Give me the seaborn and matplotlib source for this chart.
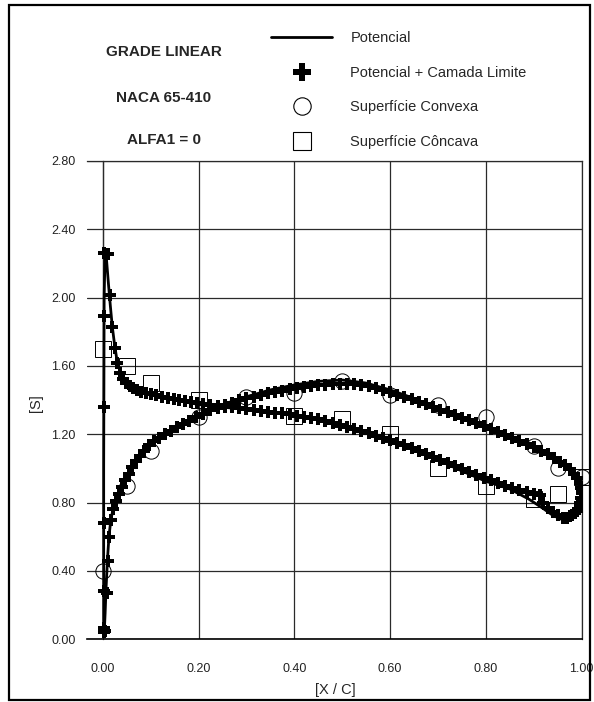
import matplotlib
matplotlib.use("Agg")
import matplotlib.pyplot as plt
import seaborn as sns
from matplotlib.lines import Line2D
from matplotlib.patches import Rectangle
from matplotlib.ticker import MultipleLocator, FormatStrFormatter

# Potencial (solid line): one path, leading edge -> concave side -> trailing edge -> convex side
pot_x = [0.002, 0.002, 0.003, 0.005, 0.008, 0.012, 0.016, 0.020, 0.025, 0.030, 0.036, 0.045,
         0.055, 0.070, 0.090, 0.110, 0.140, 0.170, 0.200, 0.240, 0.300, 0.350, 0.400, 0.450,
         0.500, 0.550, 0.600, 0.650, 0.700, 0.750, 0.800, 0.850, 0.890, 0.920, 0.940, 0.960,
         0.975, 0.990, 1.000, 1.003, 0.998, 0.988, 0.976, 0.960, 0.948, 0.920, 0.892, 0.850,
         0.800, 0.750, 0.700, 0.650, 0.600, 0.550, 0.500, 0.450, 0.400, 0.350, 0.300, 0.240,
         0.200, 0.170, 0.140, 0.120, 0.100, 0.080, 0.060, 0.047, 0.040, 0.029, 0.022, 0.017,
         0.013, 0.010, 0.007, 0.005, 0.003]
pot_y = [0.02, 1.00, 2.00, 2.27, 2.22, 2.08, 1.95, 1.83, 1.72, 1.63, 1.57, 1.52,
         1.49, 1.46, 1.44, 1.425, 1.405, 1.39, 1.375, 1.362, 1.345, 1.33, 1.315, 1.29,
         1.255, 1.21, 1.165, 1.11, 1.05, 0.985, 0.925, 0.88, 0.82, 0.765, 0.725, 0.70,
         0.705, 0.74, 0.80, 0.87, 0.93, 0.965, 0.99, 1.02, 1.05, 1.09, 1.128, 1.18,
         1.235, 1.30, 1.35, 1.41, 1.46, 1.50, 1.518, 1.51, 1.489, 1.46, 1.42, 1.365,
         1.315, 1.27, 1.225, 1.19, 1.148, 1.09, 1.01, 0.933, 0.884, 0.816, 0.767, 0.70,
         0.60, 0.47, 0.30, 0.15, 0.03]

# Potencial + Camada Limite (plus markers), concave side incl. trailing edge loop
pcl_cc_x = [0.002, 0.002, 0.002, 0.002, 0.002, 0.003, 0.002, 0.010, 0.015, 0.019, 0.026, 0.030,
            0.036, 0.042, 0.049, 0.056, 0.064, 0.072, 0.080, 0.090, 0.100, 0.112, 0.124, 0.136,
            0.148, 0.160, 0.172, 0.184, 0.196, 0.210, 0.225, 0.240, 0.255, 0.270, 0.285, 0.300,
            0.315, 0.330, 0.345, 0.360, 0.375, 0.390, 0.405, 0.420, 0.435, 0.450, 0.465, 0.480,
            0.495, 0.510, 0.525, 0.540, 0.555, 0.570, 0.585, 0.600, 0.615, 0.630, 0.645, 0.660,
            0.675, 0.690, 0.705, 0.720, 0.735, 0.750, 0.765, 0.780, 0.795, 0.810, 0.825, 0.840,
            0.855, 0.870, 0.885, 0.900, 0.912, 0.920, 0.930, 0.940, 0.950, 0.960, 0.970, 0.980,
            0.990, 0.997, 1.000, 1.000]
pcl_cc_y = [0.04, 0.065, 0.285, 0.68, 1.36, 1.89, 2.26, 2.255, 2.016, 1.83, 1.704, 1.616,
            1.557, 1.525, 1.50, 1.485, 1.47, 1.458, 1.45, 1.443, 1.437, 1.428, 1.42, 1.412,
            1.405, 1.40, 1.394, 1.388, 1.383, 1.378, 1.373, 1.368, 1.362, 1.357, 1.352, 1.347,
            1.342, 1.337, 1.332, 1.327, 1.322, 1.317, 1.31, 1.303, 1.295, 1.287, 1.278, 1.268,
            1.257, 1.244, 1.232, 1.219, 1.205, 1.192, 1.178, 1.165, 1.15, 1.135, 1.118, 1.10,
            1.083, 1.066, 1.05, 1.034, 1.016, 0.998, 0.982, 0.963, 0.945, 0.93, 0.913, 0.898,
            0.885, 0.874, 0.862, 0.852, 0.843, 0.80, 0.77, 0.745, 0.725, 0.712, 0.71, 0.725,
            0.75, 0.785, 0.82, 0.86]

# Potencial + Camada Limite (plus markers), convex side
pcl_cv_x = [0.004, 0.008, 0.011, 0.014, 0.018, 0.022, 0.027, 0.033, 0.040, 0.047, 0.054, 0.062,
            0.070, 0.078, 0.087, 0.097, 0.107, 0.118, 0.130, 0.142, 0.155, 0.168, 0.181, 0.195,
            0.210, 0.225, 0.240, 0.255, 0.270, 0.285, 0.300, 0.315, 0.330, 0.345, 0.360, 0.375,
            0.390, 0.405, 0.420, 0.435, 0.450, 0.465, 0.480, 0.495, 0.510, 0.525, 0.540, 0.555,
            0.570, 0.585, 0.600, 0.615, 0.630, 0.645, 0.660, 0.675, 0.690, 0.705, 0.720, 0.735,
            0.750, 0.765, 0.780, 0.795, 0.810, 0.825, 0.840, 0.855, 0.870, 0.885, 0.900, 0.915,
            0.930, 0.942, 0.954, 0.965, 0.975, 0.984, 0.991, 0.996, 0.999, 1.000, 0.999, 0.996,
            0.992, 0.985, 0.976]
pcl_cv_y = [0.05, 0.27, 0.46, 0.60, 0.70, 0.765, 0.81, 0.85, 0.89, 0.93, 0.97, 1.01,
            1.045, 1.075, 1.105, 1.135, 1.16, 1.18, 1.20, 1.22, 1.24, 1.26, 1.28, 1.30,
            1.32, 1.34, 1.355, 1.37, 1.385, 1.40, 1.41, 1.42, 1.43, 1.44, 1.448, 1.456,
            1.464, 1.47, 1.476, 1.482, 1.487, 1.491, 1.494, 1.496, 1.496, 1.494, 1.489, 1.481,
            1.47, 1.457, 1.445, 1.432, 1.418, 1.404, 1.39, 1.375, 1.36, 1.345, 1.33, 1.314,
            1.298, 1.282, 1.265, 1.248, 1.232, 1.215, 1.198, 1.18, 1.162, 1.143, 1.124, 1.104,
            1.082, 1.062, 1.04, 1.018, 0.995, 0.97, 0.945, 0.915, 0.885, 0.855, 0.825, 0.795,
            0.765, 0.74, 0.72]

# Experimental points
convexa_x = [0.0, 0.05, 0.10, 0.20, 0.30, 0.40, 0.50, 0.60, 0.70, 0.80, 0.90, 0.95, 1.00]
convexa_y = [0.40, 0.90, 1.10, 1.30, 1.42, 1.44, 1.51, 1.43, 1.37, 1.30, 1.13, 1.00, 0.95]
concava_x = [0.0, 0.05, 0.10, 0.20, 0.40, 0.50, 0.60, 0.70, 0.80, 0.90, 0.95, 1.00]
concava_y = [1.70, 1.60, 1.50, 1.40, 1.31, 1.29, 1.20, 1.00, 0.90, 0.82, 0.85, 0.95]

labels = ["Potencial", "Potencial + Camada Limite", "Superfície Convexa", "Superfície Côncava"]
info = ["GRADE LINEAR", "NACA 65-410", "ALFA1 = 0"]

sns.set_style("white")
plt.rcParams['font.family'] = ['Liberation Sans', 'DejaVu Sans']

W, H = 594, 702
fig = plt.figure(figsize=(W / 100, H / 100), dpi=100)
ax = fig.add_axes([87 / W, 1 - 639.3 / H, (581.7 - 87) / W, (639.3 - 161) / H])

sns.lineplot(x=pot_x, y=pot_y, sort=False, estimator=None, color='black', linewidth=2.0, ax=ax, zorder=3)
for mx, my in [(pcl_cc_x, pcl_cc_y), (pcl_cv_x, pcl_cv_y)]:
    ax.plot(mx, my, linestyle='none', marker='P', markersize=8.3, color='black',
            markeredgewidth=0, zorder=4)
ax.plot(convexa_x, convexa_y, linestyle='none', marker='o', markersize=11, markerfacecolor='none',
        markeredgecolor='black', markeredgewidth=0.7, zorder=5, clip_on=False)
ax.plot(concava_x, concava_y, linestyle='none', marker='s', markersize=11.5, markerfacecolor='none',
        markeredgecolor='black', markeredgewidth=0.7, zorder=5, clip_on=False)

ax.set_xlim(-0.0328, 1.0)
ax.set_ylim(0, 2.8)
ax.xaxis.set_major_locator(MultipleLocator(0.2))
ax.xaxis.set_minor_locator(MultipleLocator(0.1))
ax.yaxis.set_major_locator(MultipleLocator(0.4))
ax.yaxis.set_minor_locator(MultipleLocator(0.2))
ax.xaxis.set_major_formatter(FormatStrFormatter('%.2f'))
ax.yaxis.set_major_formatter(FormatStrFormatter('%.2f'))

ax.spines['left'].set_position(('data', 0))
for s in ['top', 'right', 'left']:
    ax.spines[s].set_color('#2a2a2a')
    ax.spines[s].set_linewidth(0.9)
ax.spines['bottom'].set_color('black')
ax.spines['bottom'].set_linewidth(1.2)

ax.grid(True, which='major', color='#2a2a2a', linewidth=0.9)
ax.tick_params(axis='both', which='major', direction='out', color='black', width=1.2,
               labelsize=9, labelcolor='#222222')
ax.tick_params(axis='x', which='major', length=12, pad=5)
ax.tick_params(axis='x', which='minor', length=6.5, width=1.2, color='black')
ax.tick_params(axis='y', which='major', length=11.5, pad=8)
ax.tick_params(axis='y', which='minor', length=5.5, width=1.0, color='black')

ax.set_xlabel("[X / C]", fontsize=10.5)
ax.set_ylabel("[S]", fontsize=10.5)
ax.xaxis.set_label_coords(0.501, -0.092)
ax.yaxis.set_label_coords(-0.088, 0.494)

# info text block
for txt, yp in zip(info, [52, 98, 140]):
    fig.text(164 / W, 1 - yp / H, txt, ha='center', va='center', fontsize=11, fontweight='bold')

# legend
handles = [
    Line2D([], [], color='black', linewidth=2.0),
    Line2D([], [], linestyle='none', marker='P', markersize=13, color='black', markeredgewidth=0),
    Line2D([], [], linestyle='none', marker='o', markersize=12.5, markerfacecolor='none',
           markeredgecolor='black', markeredgewidth=0.8),
    Line2D([], [], linestyle='none', marker='s', markersize=12.5, markerfacecolor='none',
           markeredgecolor='black', markeredgewidth=0.8),
]
fig.legend(handles, labels, loc='upper left', bbox_to_anchor=(271 / W, 1 - 31 / H),
           frameon=False, fontsize=10.5, handlelength=4.2, handletextpad=1.25,
           labelspacing=1.42, borderpad=0, borderaxespad=0)

# outer frame
fig.patches.append(Rectangle((8.5 / W, 1 - 700 / H), (590 - 8.5) / W, (700 - 5) / H,
                             transform=fig.transFigure, fill=False, edgecolor='black',
                             linewidth=1.6))

fig.savefig("out.png", dpi=100)
